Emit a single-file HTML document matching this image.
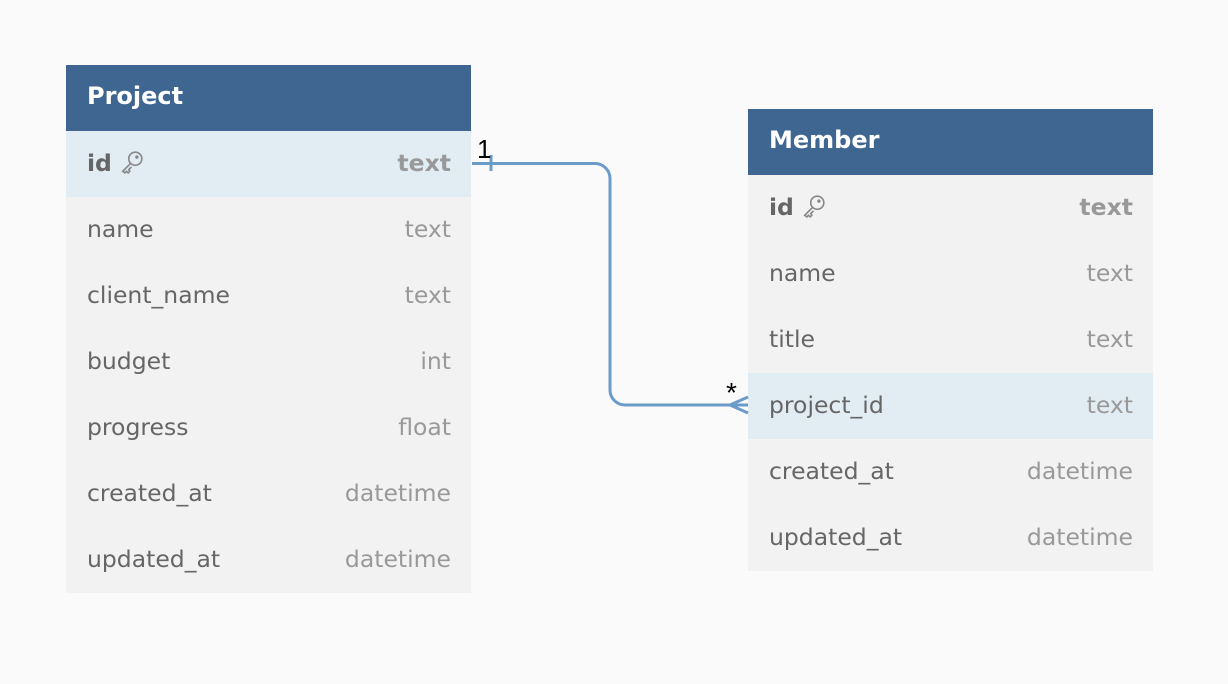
<!DOCTYPE html>
<html><head><meta charset="utf-8"><style>
body{margin:0;width:1228px;height:684px;background:#fafafa;position:relative;overflow:hidden;font-family:"DejaVu Sans","Liberation Sans",sans-serif}
.t{position:absolute;width:405px;background:#f2f2f2}
.h{height:66px;background:#3f6690;color:#fff;font-weight:bold;font-size:24px;line-height:63px;padding-left:21px;box-sizing:border-box}
.r{height:66px;position:relative;color:#666;font-size:23.5px;line-height:64px}
.r .n{position:absolute;left:21px}
.r .y{position:absolute;right:20px;color:#999}
.r.k{font-weight:bold}
.hl{background:#e1ecf3}
</style></head><body>
<div class="t" style="left:66px;top:65px;height:528px">
<div class="h">Project</div>
<div class="r k hl"><span class="n">id <svg width="24" height="24" viewBox="0 0 22 22" style="vertical-align:-3px"><g fill="none" stroke="#888" stroke-width="1.5"><circle cx="14" cy="8" r="6"/><path d="M10 12L2.5 19.5l2 1.5 1.5-1.5 1.5 1.5 1.5-1.5-1-1.5 2.5-2.5"/><circle cx="15.5" cy="6.5" r="0.8" fill="#888"/></g></svg></span><span class="y">text</span></div>
<div class="r"><span class="n">name</span><span class="y">text</span></div>
<div class="r"><span class="n">client_name</span><span class="y">text</span></div>
<div class="r"><span class="n">budget</span><span class="y">int</span></div>
<div class="r"><span class="n">progress</span><span class="y">float</span></div>
<div class="r"><span class="n">created_at</span><span class="y">datetime</span></div>
<div class="r"><span class="n">updated_at</span><span class="y">datetime</span></div>
</div>
<div class="t" style="left:748px;top:109px;height:462px">
<div class="h">Member</div>
<div class="r k"><span class="n">id <svg width="24" height="24" viewBox="0 0 22 22" style="vertical-align:-3px"><g fill="none" stroke="#888" stroke-width="1.5"><circle cx="14" cy="8" r="6"/><path d="M10 12L2.5 19.5l2 1.5 1.5-1.5 1.5 1.5 1.5-1.5-1-1.5 2.5-2.5"/><circle cx="15.5" cy="6.5" r="0.8" fill="#888"/></g></svg></span><span class="y">text</span></div>
<div class="r"><span class="n">name</span><span class="y">text</span></div>
<div class="r"><span class="n">title</span><span class="y">text</span></div>
<div class="r hl"><span class="n">project_id</span><span class="y">text</span></div>
<div class="r"><span class="n">created_at</span><span class="y">datetime</span></div>
<div class="r"><span class="n">updated_at</span><span class="y">datetime</span></div>
</div>
<svg width="1228" height="684" style="position:absolute;left:0;top:0">
<g fill="none" stroke="#6b9bc9" stroke-width="3">
<path d="M472 163.5H595a15 15 0 0 1 15 15V390a15 15 0 0 0 15 15H748"/>
<path d="M491 155v16"/>
<path d="M748 397L730 405L748 413"/>
</g>
<text x="477" y="158" font-family="Liberation Sans,sans-serif" font-size="26" fill="#000">1</text>
<text x="726" y="402" font-family="Liberation Sans,sans-serif" font-size="28" fill="#000">*</text>
</svg>
</body></html>
